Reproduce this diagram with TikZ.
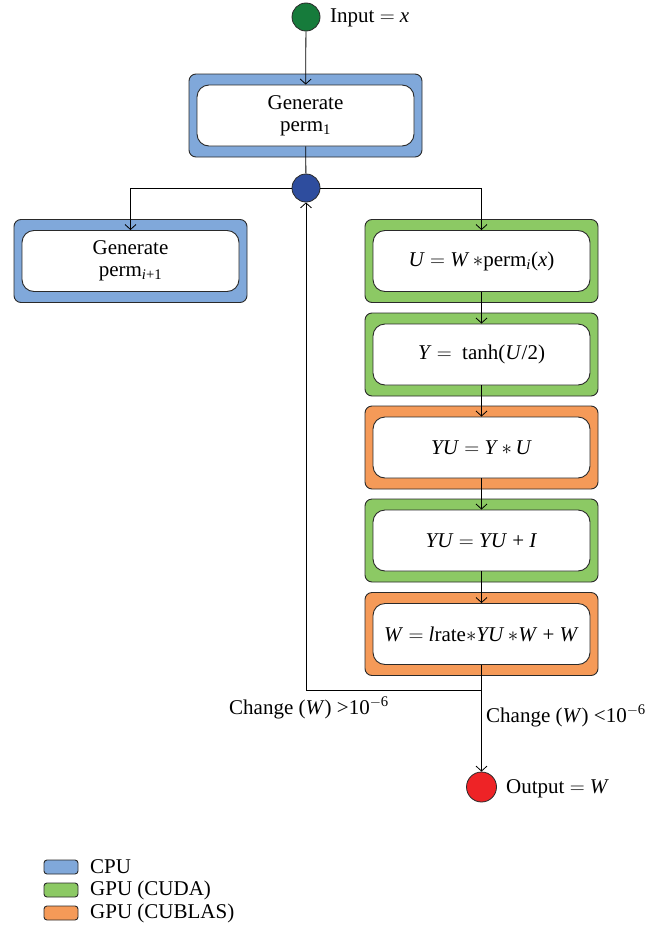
\documentclass[tikz,border=0pt]{standalone}
\usepackage{fontspec}
\setmainfont{Liberation Serif}
\usetikzlibrary{arrows.meta,calc}
\definecolor{cpublue}{HTML}{80A8DA}
\definecolor{cudagreen}{HTML}{8CC964}
\definecolor{cublasorange}{HTML}{F59A58}
\definecolor{ingreen}{HTML}{167B3B}
\definecolor{jblue}{HTML}{2E4D9E}
\definecolor{outred}{HTML}{EE2326}
\definecolor{edge}{HTML}{2A2A2A}
\tikzset{
  outerbox/.style={draw=edge,line width=0.9pt,rounded corners=7pt,minimum width=233pt,minimum height=83pt,inner sep=0pt},
  innerbox/.style={draw=edge,line width=0.9pt,fill=white,rounded corners=12pt,minimum width=217pt,minimum height=61pt,align=center,inner sep=0pt,font=\fontsize{21}{22}\selectfont},
  dot/.style={circle,draw=edge,line width=0.8pt,minimum size=28pt,inner sep=0pt},
  conn/.style={line width=0.8pt,draw=black},
  arr/.style={conn,-{Straight Barb[length=5pt,width=11pt,line width=0.8pt]}},
  lbl/.style={font=\fontsize{21}{22}\selectfont,inner sep=0pt},
  swatch/.style={draw=edge,line width=0.9pt,rounded corners=3pt,minimum width=34pt,minimum height=14pt,inner sep=0pt}
}
\newcommand{\vi}[1]{\textit{#1}}
\newcommand{\eqs}{\ $=$\ }
\begin{document}
\begin{tikzpicture}[x=1pt,y=-1pt]
\useasboundingbox (0,0) rectangle (671,926);
% input
\node[dot,fill=ingreen] (in) at (306,17) {};
\node[lbl,anchor=west] (inl) at (330,18) {Input\eqs\vi{x}};
% generate perm1
\node[outerbox,fill=cpublue] (g1o) at (305.5,115.5) {};
\node[innerbox] (g1) at (305.5,115.5) {Generate\\perm\textsubscript{1}};
% junction
\node[dot,fill=jblue] (j) at (306,188) {};
% left box
\node[outerbox,fill=cpublue] (glo) at (130.5,261) {};
\node[innerbox] (gl) at (130.5,261) {Generate\\perm\textsubscript{\vi{i}+1}};
% right column
\node[outerbox,fill=cudagreen] (b1o) at (481.5,261) {};
\node[innerbox] (b1) at (481.5,261) {\vi{U}\eqs\vi{W}\,$\ast$perm\textsubscript{\vi{i}}(\vi{x})};
\node[outerbox,fill=cudagreen] (b2o) at (481.5,354.5) {};
\node[innerbox] (b2) at (481.5,354.5) {\vi{Y}\eqs\ tanh(\vi{U}/2)};
\node[outerbox,fill=cublasorange] (b3o) at (481.5,447.5) {};
\node[innerbox] (b3) at (481.5,447.5) {\vi{YU}\eqs\vi{Y}\,$\ast$\,\vi{U}};
\node[outerbox,fill=cudagreen] (b4o) at (481.5,540.5) {};
\node[innerbox] (b4) at (481.5,540.5) {\vi{YU}\eqs\vi{YU} + \vi{I}};
\node[outerbox,fill=cublasorange] (b5o) at (481.5,634) {};
\node[innerbox] (b5) at (481.5,634) {\vi{W}\eqs\vi{l}rate$\ast$\vi{YU}\,$\ast$\vi{W} + \vi{W}};
% output
\node[dot,fill=outred,minimum size=30pt] (out) at (481.5,787) {};
\node[lbl,anchor=west] (outl) at (506,789) {Output\eqs\vi{W}};
\coordinate (fb) at (481.5,690);
% connectors
\draw[arr] (in) -- (g1);
\draw[conn] (g1) -- (j);
\draw[arr] (j) -| (gl);
\draw[arr] (j) -| (b1);
\draw[arr] (b1) -- (b2);
\draw[arr] (b2) -- (b3);
\draw[arr] (b3) -- (b4);
\draw[arr] (b4) -- (b5);
\draw[arr] (b5) -- (out);
\draw[arr] (b5.south) -- (fb) -| (j);
% labels
\node[lbl] (l1) at (309,708) {Change (\vi{W}) >10\textsuperscript{$-$6}};
\node[lbl,anchor=west] (l2) at (486,716) {Change (\vi{W}) <10\textsuperscript{$-$6}};
% legend
\node[swatch,fill=cpublue] (s1) at (61,867) {};
\node[lbl,anchor=west] (t1) at (90,867) {CPU};
\node[swatch,fill=cudagreen] (s2) at (61,890) {};
\node[lbl,anchor=west] (t2) at (90,890) {GPU (CUDA)};
\node[swatch,fill=cublasorange] (s3) at (61,913) {};
\node[lbl,anchor=west] (t3) at (90,913) {GPU (CUBLAS)};
\end{tikzpicture}
\end{document}
